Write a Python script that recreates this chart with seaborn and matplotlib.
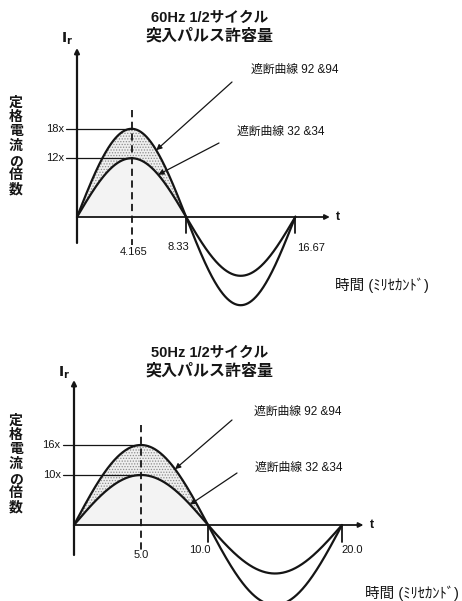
import numpy as np
import pandas as pd
import seaborn as sns
import matplotlib.pyplot as plt

# values (time in ms, current as multiple of rating)
freqs = ['60Hz', '50Hz']
t_peak = [4.165, 5.0]
t_half = [8.33, 10.0]
t_full = [16.67, 20.0]
peak_hi = [18, 16]       # 遮断曲線 92 & 94
peak_lo = [12, 10]       # 遮断曲線 32 & 34
trough_hi = [18, 16]
trough_lo = [12, 9.7]
peak_labels = [['18x', '12x'], ['16x', '10x']]
t_labels = [['4.165', '8.33', '16.67'], ['5.0', '10.0', '20.0']]
curve_names = ['遮断曲線 92 &94', '遮断曲線 32 &34']
title2 = '突入パルス許容量'
ylabel = '定格電流の倍数'
xlabel = '時間 (ﾐﾘｾｶﾝﾄﾞ)'

W, H = 462, 601
INK = '#151515'

# where each panel sits on the page (pixels from top-left)
layout = [
    dict(box=(0, 312), origin=(77, 217), scale=(13.1, 4.9),
         title=(210, 18, 36), ir=(67, 39), tpos=(338, 217), ylab=(16, 146),
         xlab=(382, 285), names=[(295, 70), (281, 132)],
         tails=[(232, 82), (219, 143)], tips=[6.05, 6.2],
         tlab=[(134, 252), (178, 247), (311, 248)],
         yaxis=(-5.3, 34.5), xaxis_end=19.3, dash=(21.8, -5.7)),
    dict(box=(300, 601), origin=(74, 525), scale=(13.4, 5.0),
         title=(210, 353, 371), ir=(64, 373), tpos=(372, 525), ylab=(16, 464),
         xlab=(412, 593), names=[(298, 412), (299, 468)],
         tails=[(232, 420), (237, 473)], tips=[7.54, 8.66],
         tlab=[(141, 555), (200, 550), (352, 550)],
         yaxis=(-6.0, 29.0), xaxis_end=21.6, dash=(20.0, -5.6)),
]

sns.set_theme(style='white')
plt.rcParams['font.family'] = ['Liberation Sans', 'Noto Sans CJK JP', 'DejaVu Sans']
plt.rcParams['hatch.linewidth'] = 0.6
plt.rcParams['hatch.color'] = '#8c8c8c'

fig = plt.figure(figsize=(W / 100, H / 100), dpi=100)
fig.patch.set_facecolor('white')


def ptext(x, y, s, **kw):
    fig.text(x / W, 1 - y / H, s, color=INK, **kw)


for i, L in enumerate(layout):
    ytop, ybot = L['box']
    ox, oy = L['origin']
    sx, sy = L['scale']
    ax = fig.add_axes([0, 1 - ybot / H, 1, (ybot - ytop) / H])
    ax.patch.set_alpha(0)

    th = t_half[i]
    t = np.linspace(0, t_full[i], 600)
    wave = np.sin(np.pi * t / th)
    hi = np.where(t <= th, peak_hi[i], trough_hi[i]) * wave
    lo = np.where(t <= th, peak_lo[i], trough_lo[i]) * wave
    df = pd.DataFrame({'t': np.concatenate([t, t]),
                       'I': np.concatenate([hi, lo]),
                       'curve': [curve_names[0]] * len(t) + [curve_names[1]] * len(t)})

    pos = t <= th
    ax.fill_between(t[pos], 0, lo[pos], color='#f3f3f3', lw=0, zorder=1)
    ax.fill_between(t[pos], lo[pos], hi[pos], facecolor='#efefef',
                    edgecolor='#8c8c8c', hatch='......', lw=0, zorder=1)

    sns.lineplot(data=df, x='t', y='I', units='curve', estimator=None,
                 color=INK, lw=1.6, ax=ax, zorder=4, legend=False)

    # axes with arrows
    ax.annotate('', xy=(0, L['yaxis'][1]), xytext=(0, L['yaxis'][0]),
                arrowprops=dict(arrowstyle='-|>', lw=1.6, color=INK,
                                mutation_scale=7, shrinkA=0, shrinkB=0), zorder=5)
    ax.annotate('', xy=(L['xaxis_end'], 0), xytext=(0, 0),
                arrowprops=dict(arrowstyle='-|>', lw=1.3, color=INK,
                                mutation_scale=7, shrinkA=0, shrinkB=0), zorder=5)

    # peak marker lines, dashed line, ticks
    for val, lab in zip([peak_hi[i], peak_lo[i]], peak_labels[i]):
        ax.plot([-0.85, t_peak[i]], [val, val], color=INK, lw=0.9, zorder=3)
        ax.text(-1.0, val, lab, ha='right', va='center', fontsize=8, color=INK)
    ax.plot([t_peak[i], t_peak[i]], L['dash'], color=INK, lw=1.3,
            ls=(0, (4, 2.5)), zorder=3)
    for tk in [t_half[i], t_full[i]]:
        ax.plot([tk, tk], [0, -3.3], color=INK, lw=1.3, zorder=3)

    ax.set_xlim(-ox / sx, (W - ox) / sx)
    ax.set_ylim((oy - ybot) / sy, (oy - ytop) / sy)
    ax.set_axis_off()

    # text
    ptext(L['title'][0], L['title'][1], freqs[i] + ' 1/2サイクル', ha='center',
          va='center', fontsize=10.5, fontweight='bold')
    ptext(L['title'][0], L['title'][2], title2, ha='center', va='center',
          fontsize=11.5, fontweight='bold')
    ptext(L['ir'][0], L['ir'][1], r'$\mathbf{I}_{\mathbf{r}}$', ha='center',
          va='center', fontsize=10)
    ptext(L['tpos'][0], L['tpos'][1], 't', ha='center', va='center',
          fontsize=9, fontweight='bold')
    ptext(L['ylab'][0], L['ylab'][1], '\n'.join(ylabel), ha='center',
          va='center', fontsize=10, fontweight='bold', linespacing=1.05)
    ptext(L['xlab'][0], L['xlab'][1], xlabel, ha='center', va='center',
          fontsize=10.5)
    for (x, y), s in zip(L['tlab'], t_labels[i]):
        ptext(x, y, s, ha='center', va='center', fontsize=8)

    curves = [hi, lo]
    for k in range(2):
        ptext(L['names'][k][0], L['names'][k][1], curve_names[k], ha='center',
              va='center', fontsize=8.5)
        tx = L['tips'][k]
        ty = np.interp(tx, t, curves[k])
        tail = L['tails'][k]
        ax.annotate('', xy=(tx, ty), xytext=(tail[0], H - tail[1]),
                    textcoords='figure pixels',
                    arrowprops=dict(arrowstyle='-|>', lw=0.9, color=INK,
                                    mutation_scale=8, shrinkA=0, shrinkB=0),
                    zorder=6)

fig.savefig('out.png', dpi=100, facecolor='white')
